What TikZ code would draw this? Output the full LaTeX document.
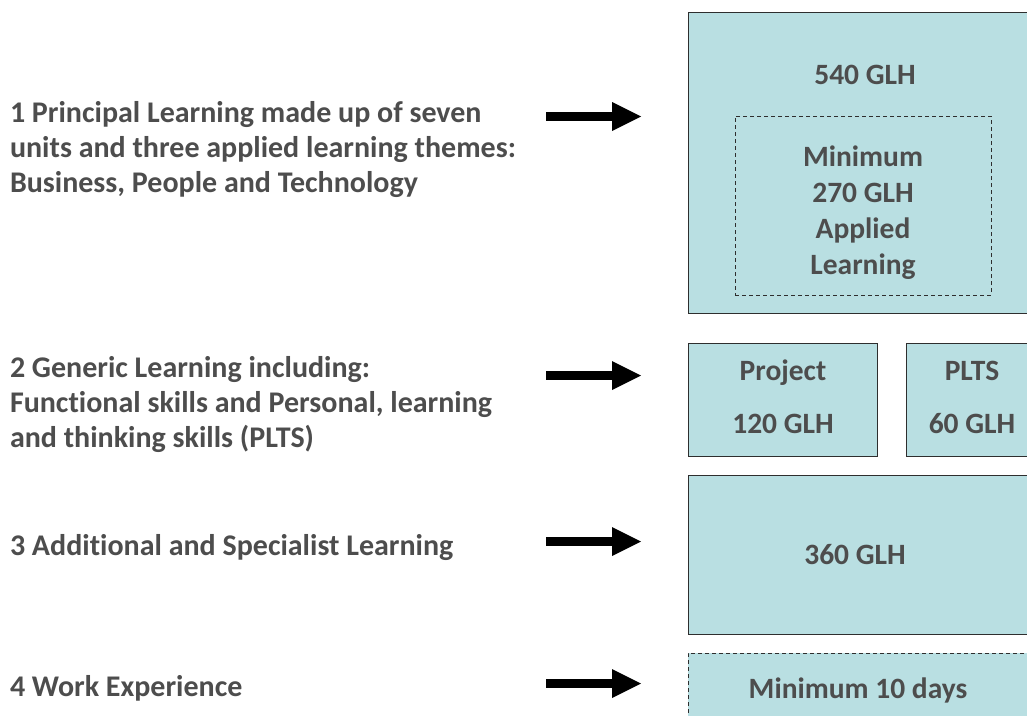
\documentclass[tikz,border=0pt]{standalone}
\usepackage{fontspec}
\setmainfont{Carlito}[Ligatures=CommonOff]
\usetikzlibrary{arrows.meta}
\definecolor{boxfill}{HTML}{B9DFE2}
\definecolor{txt}{HTML}{4D4D4D}
\definecolor{edge}{HTML}{2E2E2E}
\begin{document}
\begin{tikzpicture}[x=1pt,y=-1pt,
  every node/.style={inner sep=0pt, outer sep=0pt},
  lab/.style={font=\fontsize{30}{35}\selectfont\bfseries, text=txt, align=left, anchor=west},
  btxt/.style={font=\fontsize{29.5}{36}\selectfont\bfseries, text=txt, align=center},
  box/.style={draw=edge, line width=1pt, fill=boxfill},
  dbox/.style={draw=edge, line width=1pt, dashed, dash pattern=on 4pt off 3pt},
  bigarrow/.style={draw=black, line width=9pt, -{Triangle[length=29pt,width=29pt,line width=0pt]}}]
\useasboundingbox (0,0) rectangle (1027,715);
\clip (0,0) rectangle (1027,715);
\fill[white] (0,0) rectangle (1027,715);

% boxes
\node[box, minimum width=356pt, minimum height=301pt] (b1) at (866,162.5) {};
\node[dbox, minimum width=256pt, minimum height=179pt] (b1in) at (863,205.5) {};
\node[btxt] (t540) at (865,75) {540 GLH};
\node[btxt] (tmin) at (863,213) {Minimum\\270 GLH\\Applied\\Learning};

\node[box, minimum width=189pt, minimum height=113pt] (bproj) at (782.5,399.5) {};
\node[box, minimum width=132pt, minimum height=113pt] (bplts) at (972,399.5) {};
\node[btxt] (tproj) at (783,397) {Project\\[17pt]120 GLH};
\node[btxt] (tplts) at (972,397) {PLTS\\[17pt]60 GLH};

\node[box, minimum width=356pt, minimum height=159pt] (b360) at (866,554.5) {};
\node[btxt] (t360) at (855,555) {360 GLH};

\node[box, dashed, dash pattern=on 4pt off 3pt, minimum width=356pt, minimum height=100pt] (bwork) at (866,703) {};
\node[btxt] (twork) at (858,690) {Minimum 10 days};

% left labels
\node[lab] (l1) at (10,150) {1 Principal Learning made up of seven\\units and three applied learning themes:\\Business, People and Technology};
\node[lab] (l2) at (10,405) {2 Generic Learning including:\\Functional skills and Personal, learning\\and thinking skills (PLTS)};
\node[lab] (l3) at (10,548) {3 Additional and Specialist Learning};
\node[lab] (l4) at (10,688) {4 Work Experience};

% arrows
\coordinate (a1s) at (546,116.5); \coordinate (a1e) at (641,116.5);
\coordinate (a2s) at (546,375.5); \coordinate (a2e) at (641,375.5);
\coordinate (a3s) at (546,541.5); \coordinate (a3e) at (641,541.5);
\coordinate (a4s) at (546,683.5); \coordinate (a4e) at (641,683.5);
\draw[bigarrow] (a1s) -- (a1e);
\draw[bigarrow] (a2s) -- (a2e);
\draw[bigarrow] (a3s) -- (a3e);
\draw[bigarrow] (a4s) -- (a4e);
\end{tikzpicture}
\end{document}
